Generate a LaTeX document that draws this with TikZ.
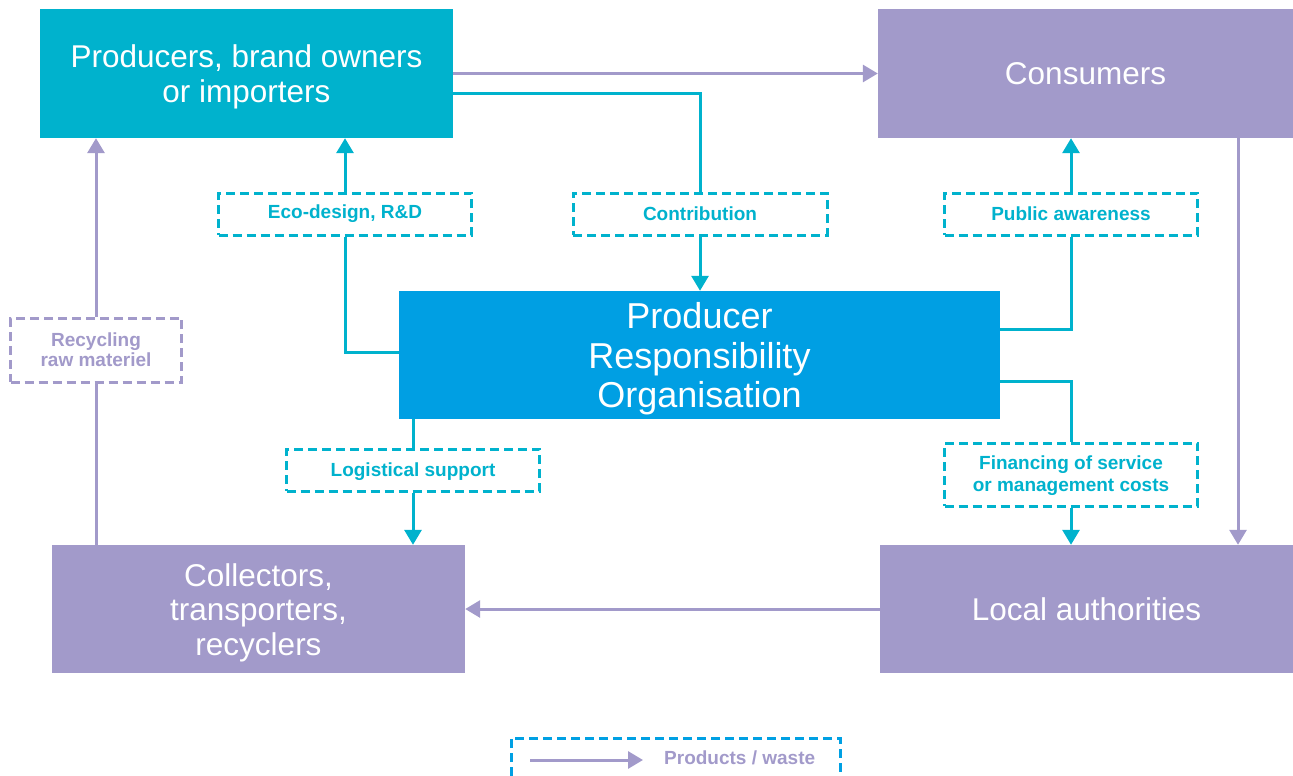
\documentclass[tikz,border=0pt]{standalone}
\usepackage{fontspec}
\setmainfont{Liberation Sans}
\usetikzlibrary{arrows.meta}
\definecolor{tealc}{RGB}{0,178,205}
\definecolor{problue}{RGB}{0,159,227}
\definecolor{lav}{RGB}{162,154,202}
\definecolor{legblue}{RGB}{0,160,227}
% invisible strut that lowers a multi-line block a little inside its box
\newcommand{\toppad}[1]{\rule{0pt}{#1}}
\begin{document}
\begin{tikzpicture}[x=1pt,y=-1pt,
  bigbox/.style={rectangle, inner sep=0pt, text=white, align=center,
    font=\fontsize{31.5}{34.5}\selectfont},
  tealbox/.style={bigbox, fill=tealc},
  lavbox/.style={bigbox, fill=lav},
  probox/.style={bigbox, fill=problue, font=\fontsize{36}{39.5}\selectfont},
  lbl/.style={rectangle, draw=tealc, line width=3pt, dash pattern=on 9pt off 5pt,
    fill=white, text=tealc, align=center, inner sep=0pt,
    font=\bfseries\fontsize{19}{22}\selectfont},
  lavlbl/.style={lbl, draw=lav, text=lav, font=\bfseries\fontsize{19}{20}\selectfont},
  tl/.style={draw=tealc, line width=3pt},
  lv/.style={draw=lav, line width=3pt},
  tip/.style={-{Triangle[width=17pt,length=15pt]}}
]
\useasboundingbox (0,0) rectangle (1293,776);

% main actors
\node[tealbox, minimum width=413pt, minimum height=129pt] (prod) at (246.5,73.5)
  {\toppad{29pt}Producers, brand owners\\[0.5pt]or importers};
\node[lavbox, minimum width=415pt, minimum height=129pt] (cons) at (1085.5,73.5)
  {Consumers};
\node[probox, minimum width=601pt, minimum height=128pt] (pro) at (699.5,355)
  {\toppad{34pt}Producer\\Responsibility\\Organisation};
\node[lavbox, minimum width=413pt, minimum height=128pt] (coll) at (258.5,609)
  {\toppad{30pt}Collectors,\\transporters,\\recyclers};
\node[lavbox, minimum width=413pt, minimum height=128pt] (local) at (1086.5,609)
  {Local authorities};

% flow labels
\node[lbl, minimum width=253pt, minimum height=42pt] (eco) at (345,214) {Eco-design, R\&D};
\node[lbl, minimum width=254pt, minimum height=42pt] (contrib) at (700,214) {Contribution};
\node[lbl, minimum width=253pt, minimum height=42pt] (aware) at (1071,214) {Public awareness};
\node[lbl, minimum width=253pt, minimum height=42pt] (logi) at (413,470)
  {\toppad{17pt}Logistical support};
\node[lbl, minimum width=253pt, minimum height=63pt] (fin) at (1071,474.5)
  {\toppad{17pt}Financing of service\\or management costs};
\node[lavlbl, minimum width=171pt, minimum height=64pt] (recyc) at (96,350)
  {Recycling\\raw materiel};

% financial and service flows
\draw[tl] ([yshift=-20pt]prod.east) -| (contrib.north);
\draw[tl,tip] (contrib.south) -- (contrib.south |- pro.north);
\draw[tl] ([yshift=3pt]pro.west) -| (eco.south);
\draw[tl,tip] (eco.north) -- (eco.north |- prod.south);
\draw[tl] ([yshift=26pt]pro.east) -| (aware.south);
\draw[tl,tip] (aware.north) -- (aware.north |- cons.south);
\draw[tl] ([yshift=-26pt]pro.east) -| (fin.north);
\draw[tl,tip] (fin.south) -- (fin.south |- local.north);
\draw[tl] (logi.north |- pro.south) -- (logi.north);
\draw[tl,tip] (logi.south) -- (logi.south |- coll.north);

% product / waste flows
\draw[lv,tip] (prod.east) -- (cons.west);
\draw[lv,tip] ([xshift=152.5pt]cons.south) -- ([xshift=152.5pt]cons.south |- local.north);
\draw[lv,tip] (local.west) -- (coll.east);
\draw[lv] (recyc.south |- coll.north) -- (recyc.south);
\draw[lv,tip] (recyc.north) -- (recyc.north |- prod.south);

% legend
\draw[draw=legblue, line width=3pt, dash pattern=on 9pt off 5pt]
  (511,790) -- (511,738) -- (840,738) -- (840,790);
\coordinate (la) at (530,760);
\coordinate (lb) at (643,760);
\draw[lv,tip] (la) -- (lb);
\node[anchor=west, text=lav, font=\bfseries\fontsize{19}{22}\selectfont, inner sep=0pt]
  (legtxt) at (664,758) {Products / waste};
\end{tikzpicture}
\end{document}
